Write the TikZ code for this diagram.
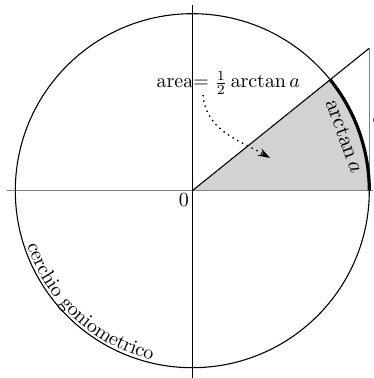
\documentclass[tikz,border=0pt]{standalone}
\usetikzlibrary{decorations.text,arrows.meta,calc}
\begin{document}
\begin{tikzpicture}[x=0.5pt,y=0.5pt,
  axisx/.style={draw=gray,line width=0.5pt},
  axisy/.style={draw=black,line width=0.5pt},
  thin line/.style={draw=black,line width=0.55pt},
  lbl/.style={inner sep=1.5pt,font=\normalsize}]
\useasboundingbox (-192.3,-187.3) rectangle (180.7,190.7);
\clip (-192.3,-187.3) rectangle (180.7,190.7);
\pgfmathsetmacro\ang{atan(0.805)}
\coordinate (O) at (0,0);
\coordinate (A) at (177,0);
\coordinate (T) at (177,142.5);
\coordinate (P) at (\ang:177);
\coordinate (XL) at (-185,0);
\coordinate (XR) at (190,0);
\coordinate (YB) at (0,-190);
\coordinate (YT) at (0,186);
% sector
\fill[gray!35] (O) -- (A) arc[start angle=0,end angle=\ang,radius=177] -- cycle;
% axes
\path[axisx] (XL) -- (XR);
\path[axisy] (YB) -- (YT);
% circle
\path[thin line] (O) circle[radius=177];
% radius to tangent, tangent
\path[thin line] (O) -- (T);
\draw[gray,line width=0.6pt] (A) -- (T);
% bold arc
\draw[line width=1.6pt] (A) arc[start angle=0,end angle=\ang,radius=177];
% labels
\node[lbl,anchor=north east] (zero) at (O) {$0$};
\node[lbl,anchor=north west] (one) at (A) {$1$};
\node[lbl,anchor=west] (aa) at ($(A)!0.5!(T)$) {$a$};
\node[lbl,rotate=-70,scale=1.1] (arcl) at (19.7:162) {$\arctan a$};
\node[lbl,anchor=base] (area) at (36,102.7) {area$=\frac{1}{2}\arctan a$};
\coordinate (s) at (10.7,95.7);
\coordinate (e) at (77.7,32.7);
\draw[dotted,line width=0.7pt,-{Stealth[length=6pt,width=4pt]}] (s) to[out=-85,in=150] (e);
% circle name
\path[decorate,decoration={text along path,text={cerchio goniometrico},text align=center,raise=1.5pt}]
  (188:177) arc[start angle=188,end angle=267,radius=177];
\end{tikzpicture}
\end{document}
